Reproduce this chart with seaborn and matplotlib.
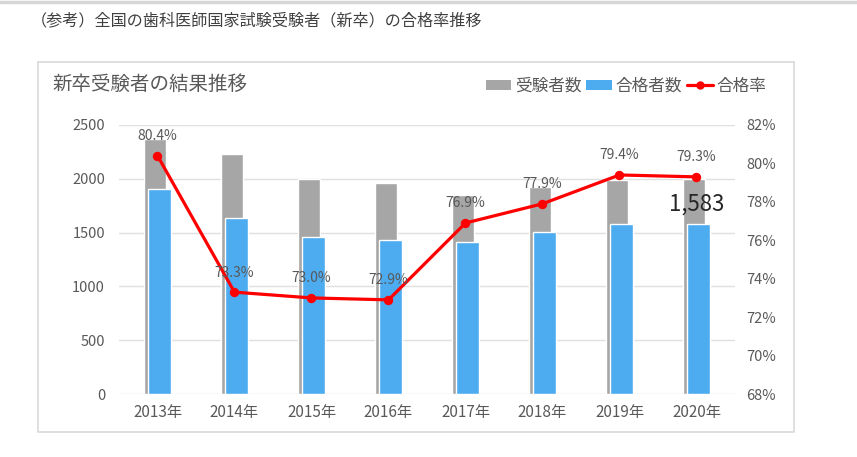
import numpy as np
import pandas as pd
import matplotlib
matplotlib.use("Agg")
import matplotlib.pyplot as plt
import seaborn as sns
from matplotlib.patches import Rectangle, Patch
from matplotlib.lines import Line2D

years = ["2013年", "2014年", "2015年", "2016年", "2017年", "2018年", "2019年", "2020年"]
examinees = [2366, 2230, 1995, 1960, 1845, 1925, 1990, 1996]
passers = [1902, 1633, 1456, 1428, 1416, 1503, 1580, 1583]
pass_rate = [80.4, 73.3, 73.0, 72.9, 76.9, 77.9, 79.4, 79.3]
left_ticks = [0, 500, 1000, 1500, 2000, 2500]
right_ticks = [68, 70, 72, 74, 76, 78, 80, 82]

sns.set_theme(style="white")
plt.rcParams["font.family"] = ["Noto Sans CJK JP", "DejaVu Sans"]

GRAY = "#a6a6a6"
BLUE = "#4dabf0"
RED = "#ff0000"
TXT = "#595959"

df = pd.DataFrame({"year": years, "examinees": examinees, "passers": passers, "rate": pass_rate})
df["pos"] = np.arange(len(years))

fig = plt.figure(figsize=(8.57, 4.57), dpi=100)
W, H = 857, 457

# outer decorations
fig.add_artist(Line2D([0, 1], [1 - 1.5 / H, 1 - 1.5 / H], color="#d6d6d6", lw=2.5, transform=fig.transFigure))
fig.add_artist(Rectangle((38 / W, 1 - 432 / H), (794 - 38) / W, (432 - 62) / H,
                         transform=fig.transFigure, fill=False, edgecolor="#d9d9d9", lw=1.2))
fig.text(31 / W, 1 - 21 / H, "（参考）全国の歯科医師国家試験受験者（新卒）の合格率推移",
         fontsize=11.6, color="#404040", va="center", ha="left")
fig.text(52 / W, 1 - 84 / H, "新卒受験者の結果推移", fontsize=14, color=TXT, va="center", ha="left")

ax = fig.add_axes([119 / W, 1 - 394 / H, (735 - 119) / W, (394 - 125) / H])

sns.barplot(data=df, x=df["pos"] - 0.035, y="examinees", native_scale=True, width=0.29,
            color=GRAY, saturation=1, ax=ax, errorbar=None)
sns.barplot(data=df, x=df["pos"] + 0.03, y="passers", native_scale=True, width=0.30,
            color=BLUE, saturation=1, ax=ax, errorbar=None)

ax.set_xlim(-0.5, len(years) - 0.5)
ax.set_ylim(0, 2500)
ax.set_yticks(left_ticks)
ax.set_xticks(np.arange(len(years)))
ax.set_xticklabels(years)
ax.set_xlabel("")
ax.set_ylabel("")
ax.grid(axis="y", color="#e0e0e0", lw=1)
ax.set_axisbelow(True)
for s in ax.spines.values():
    s.set_visible(False)
ax.tick_params(axis="y", length=0, labelsize=10.5, labelcolor=TXT, pad=10)
ax.tick_params(axis="x", length=0, labelsize=11, labelcolor=TXT, pad=7)

ax.annotate(f"{passers[-1]:,}", (len(years) - 1, passers[-1]), xytext=(0, 14),
            textcoords="offset points", ha="center", va="center", fontsize=16, color="#262626")

ax2 = ax.twinx()
sns.lineplot(data=df, x="pos", y="rate", ax=ax2, color=RED, lw=2.3, marker="o",
             markersize=6, markeredgecolor=RED, markerfacecolor=RED)
ax2.set_ylim(68, 82)
ax2.set_yticks(right_ticks)
ax2.set_yticklabels([f"{t}%" for t in right_ticks])
ax2.set_ylabel("")
ax2.set_xlabel("")
for s in ax2.spines.values():
    s.set_visible(False)
ax2.tick_params(axis="y", length=0, labelsize=10.5, labelcolor=TXT, pad=8)
ax2.grid(False)
ax.set_xlim(-0.5, len(years) - 0.5)

for i, r in enumerate(pass_rate):
    ax2.annotate(f"{r:.1f}%", (i, r), xytext=(0, 9), textcoords="offset points",
                 ha="center", va="bottom", fontsize=10, color=TXT)

handles = [Patch(facecolor=GRAY, edgecolor="none"),
           Patch(facecolor=BLUE, edgecolor="none"),
           Line2D([0], [0], color=RED, lw=2.3, marker="o", markersize=5)]
leg = fig.legend(handles, ["受験者数", "合格者数", "合格率"], loc="center right",
                 bbox_to_anchor=(766 / W, 1 - 86 / H), ncol=3, frameon=False,
                 fontsize=12, handlelength=1.55, handleheight=0.55, handletextpad=0.2,
                 columnspacing=0.3, borderaxespad=0, borderpad=0)
for t in leg.get_texts():
    t.set_color(TXT)

fig.savefig("out.png", dpi=100, facecolor="white")
